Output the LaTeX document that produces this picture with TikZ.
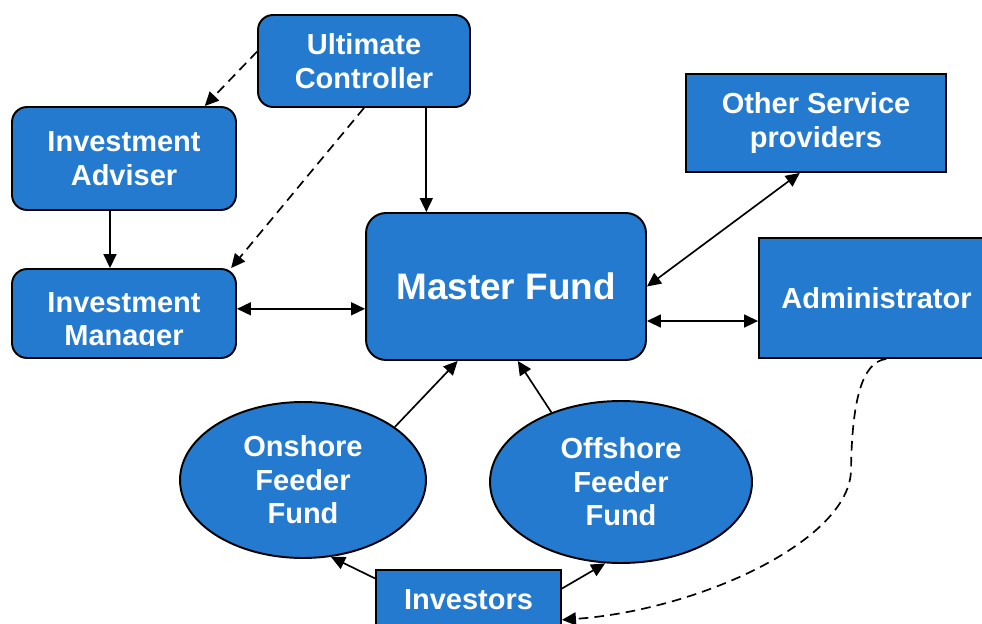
\documentclass[tikz,border=0pt]{standalone}
\usepackage{fontspec}
\setmainfont{Liberation Sans}
\usetikzlibrary{arrows.meta,shapes.geometric}
\definecolor{fundblue}{RGB}{36,122,206}
\begin{document}
\begin{tikzpicture}[x=0.02cm, y=-0.02cm,
    >={Triangle[length=0.28cm,width=0.26cm]},
    box/.style={draw=black, line width=1.1pt, fill=fundblue, text=white, inner sep=0pt, align=center, font=\bfseries\fontsize{16.5}{19}\selectfont},
    roundbox/.style={box, rounded corners=0.3cm},
    oval/.style={box, ellipse},
    link/.style={line width=0.95pt},
    dashlink/.style={link, dash pattern=on 5.5pt off 3.5pt}]
    \useasboundingbox (0,0) rectangle (982,624);
    % boxes
    \node[roundbox, minimum width=4.24cm, minimum height=1.84cm] (uc) at (364,61) {Ultimate\\Controller};
    \node[roundbox, minimum width=4.48cm, minimum height=2.06cm] (adviser) at (124,158.5) {Investment\\Adviser};
    \node[roundbox, minimum width=4.48cm, minimum height=1.78cm] (manager) at (124,313.5) {};
    \begin{scope}
        \clip (12,269) rectangle (236,345);
        \node[box, draw=none, fill=none] (managertext) at (124,322) {Investment\\Manager};
    \end{scope}
    \node[roundbox, rounded corners=0.4cm, minimum width=5.6cm, minimum height=2.94cm, font=\bfseries\fontsize{21}{25}\selectfont] (master) at (506,286.5) {Master Fund};
    \node[box, minimum width=5.2cm, minimum height=1.96cm] (others) at (816,123) {Other Service\\providers};
    \node[box, minimum width=4.7cm, minimum height=2.4cm] (admin) at (876.5,298) {Administrator};
    \node[oval, minimum width=4.92cm, minimum height=3.12cm] (onshore) at (303,480) {Onshore\\Feeder\\Fund};
    \node[oval, minimum width=5.24cm, minimum height=3.24cm] (offshore) at (621,482) {Offshore\\Feeder\\Fund};
    \node[box, minimum width=3.7cm, minimum height=1.2cm] (investors) at (468.5,600) {Investors};
    % connectors
    \draw[dashlink, ->] (uc.175) -- (adviser.33);
    \draw[dashlink, ->] (uc.south) -- (manager.23);
    \draw[link, ->] (uc.-37) -- (uc.-37 |- master.north);
    \draw[link, ->] ([xshift=-0.28cm]adviser.south) -- ([xshift=-0.28cm]manager.north);
    \draw[link, <->] (master.189 -| manager.east) -- (master.189);
    \draw[link, <->] (master.east) -- (others.252);
    \draw[link, <->] (admin.191 -| master.east) -- (admin.191);
    \draw[link, ->] (onshore.30) -- (master.237);
    \draw[link, ->] (offshore.135) -- (master.-81);
    \draw[link, ->] (investors.167) -- (onshore.-70);
    \draw[link, ->] (investors.7) -- (offshore.-101);
    \draw[dashlink, ->] (admin.-81) .. controls (862,362) and (852,400) .. (851,470)
        .. controls (850,540) and (700,610) .. (investors.-12);
\end{tikzpicture}
\end{document}
